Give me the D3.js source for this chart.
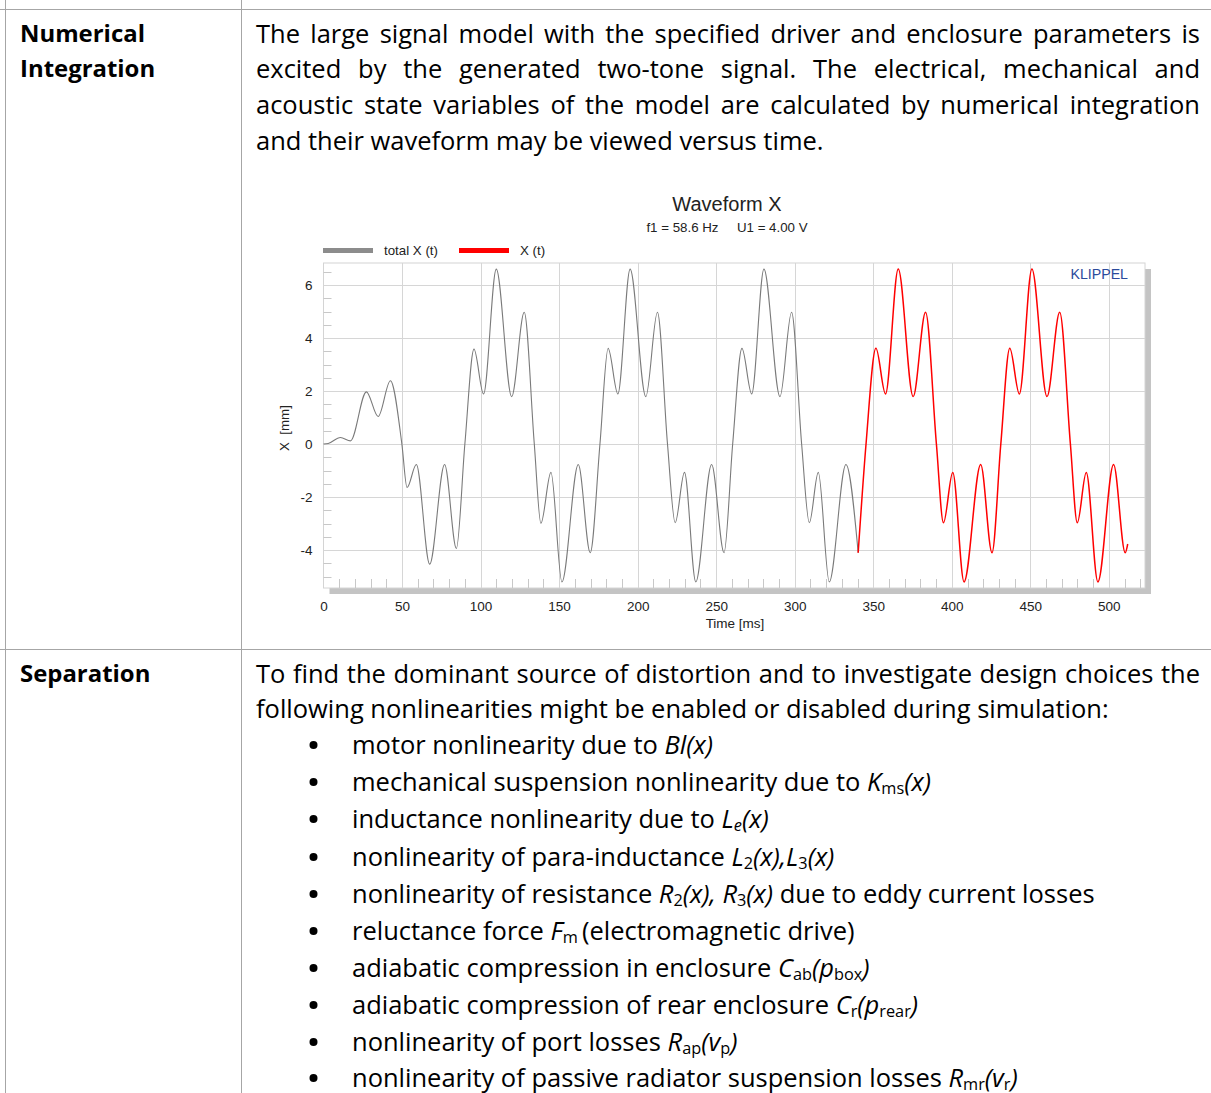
<!DOCTYPE html>
<html>
<head>
<meta charset="utf-8">
<script src="https://cdn.jsdelivr.net/npm/d3@7/dist/d3.min.js"></script>
<style>
  html, body { margin: 0; padding: 0; background: #fff; }
  body { width: 1211px; height: 1093px; position: relative; overflow: hidden; }
  #page { position: absolute; left: 0; top: 0; width: 1211px; height: 1093px; }
  .txt { position: absolute; font-family: 'Open Sans', sans-serif; color: #000; white-space: nowrap; }
  .just { text-align: justify; text-align-last: justify; white-space: normal; }
  .lbl { font-weight: bold; }
  sub { font-size: 0.64em; vertical-align: -0.18em; line-height: 0; font-style: normal; }
  sub.it { font-style: italic; }
</style>
</head>
<body>
<div id="page"></div>
<script>
// ---------------- data ----------------
const chartTitle = "Waveform X";
const chartSubtitle = "f1 = 58.6 Hz     U1 = 4.00 V";
const seriesNames = ["total X (t)", "X (t)"];
const xLabel = "Time [ms]";
const yLabel = "X  [mm]";
const xTicks = [0, 50, 100, 150, 200, 250, 300, 350, 400, 450, 500];
const yTicks = [-4, -2, 0, 2, 4, 6];

// total X (t): time [ms] and displacement [mm] read at extrema / crossings
const totalTime = [0, 3, 10.8, 17.2, 27.3, 34.8, 42.6, 49.9, 53.2, 59.1, 67.6, 77.1, 84.6, 90.0,
  95.8, 101.9, 110.0, 119.8, 127.8, 134.2, 138.4, 144.8, 151.8, 162.2, 169.8, 176.0,
  181.2, 187.4, 195.2, 205.2, 212.6, 219.0, 223.9, 229.8, 237.0, 247.1, 255.0, 260.5,
  266.4, 272.6, 280.4, 290.6, 298.0, 304.4, 309.3, 315.0, 322.0, 332.6, 340.4];
const totalX = [0, 0.02, 0.25, 0.12, 1.97, 1.04, 2.39, 0, -1.64, -0.77, -4.53, -0.77, -3.94, 0,
  3.58, 1.89, 6.60, 1.79, 4.97, 0, -2.99, -1.07, -5.2, -0.77, -4.1, 0,
  3.61, 1.89, 6.6, 1.79, 4.97, 0, -2.97, -1.07, -5.2, -0.77, -4.1, 0,
  3.61, 1.89, 6.6, 1.79, 4.97, 0, -2.97, -1.07, -5.2, -0.77, -4.1];

// X (t): steady-state part
const xTime = [340.4, 345.4, 351.7, 357.8, 365.9, 375.4, 383.3, 390.2, 394.7, 400.6, 407.8, 418.4,
  425.6, 431.2, 436.9, 443.0, 451.0, 460.6, 468.7, 475.5, 479.9, 485.6, 493.0, 503.0, 510.4, 512.0];
const xValues = [-4.1, 0, 3.61, 1.89, 6.6, 1.79, 4.97, 0, -2.97, -1.07, -5.2, -0.77,
  -4.1, 0, 3.61, 1.89, 6.6, 1.79, 4.97, 0, -2.97, -1.07, -5.2, -0.77, -4.1, -3.77];

// ---------------- page ----------------
const W = 1211, H = 1093;
const page = d3.select("#page");
const svg = page.append("svg").attr("width", W).attr("height", H)
  .style("position", "absolute").style("left", 0).style("top", 0);

// table lines
const tableColor = "#a6a6a6";
[[0, 9.5, W, 9.5], [0, 649.5, W, 649.5], [5.5, 0, 5.5, H], [241.5, 0, 241.5, H]].forEach(l => {
  svg.append("line").attr("x1", l[0]).attr("y1", l[1]).attr("x2", l[2]).attr("y2", l[3])
    .attr("stroke", tableColor).attr("stroke-width", 1);
});

// text: fit font size to measured line width
const BODY_FONT = "'Open Sans', sans-serif";
const cnv = document.createElement("canvas").getContext("2d");
function widthAt(txt, size, weight) {
  cnv.font = (weight || "normal") + " " + size + "px " + BODY_FONT;
  return cnv.measureText(txt).width;
}
const bodySize = 100 * 853 / widthAt("following nonlinearities might be enabled or disabled during simulation:", 100);
const labelSize = 100 * 125 / widthAt("Numerical", 100, "bold");

function addLine(html, x, cy, w, justify, cls) {
  const d = page.append("div").attr("class", "txt" + (justify ? " just" : "") + (cls ? " " + cls : ""))
    .style("left", x + "px").style("top", (cy - 13) + "px")
    .style("font-size", (cls === "lbl" ? labelSize : bodySize) + "px")
    .style("line-height", "26px").style("height", "26px")
    .html(html);
  if (w) d.style("width", w + "px");
  return d;
}

addLine("Numerical", 20, 33, null, false, "lbl");
addLine("Integration", 20, 68, null, false, "lbl");
addLine("Separation", 20, 673, null, false, "lbl");

const para1 = [
  "The large signal model with the specified driver and enclosure parameters is",
  "excited by the generated two-tone signal. The electrical, mechanical and",
  "acoustic state variables of the model are calculated by numerical integration",
  "and their waveform may be viewed versus time."];
const para1Y = [33, 68, 104, 140];
para1.forEach((t, i) => addLine(t, 256, para1Y[i], 944, i < para1.length - 1));

const para2 = [
  "To find the dominant source of distortion and to investigate design choices the",
  "following nonlinearities might be enabled or disabled during simulation:"];
const para2Y = [673, 708];
para2.forEach((t, i) => addLine(t, 256, para2Y[i], 944, i < para2.length - 1));

const bullets = [
  "motor nonlinearity due to <i>Bl(x)</i>",
  "mechanical suspension nonlinearity due to <i>K</i><sub>ms</sub><i>(x)</i>",
  "inductance nonlinearity due to <i>L</i><sub class='it'>e</sub><i>(x)</i>",
  "nonlinearity of para-inductance <i>L</i><sub>2</sub><i>(x),L</i><sub>3</sub><i>(x)</i>",
  "nonlinearity of resistance <i>R</i><sub>2</sub><i>(x), R</i><sub>3</sub><i>(x)</i> due to eddy current losses",
  "reluctance force <i>F</i><sub>m</sub>&#8201;(electromagnetic drive)",
  "adiabatic compression in enclosure <i>C</i><sub>ab</sub><i>(p</i><sub>box</sub><i>)</i>",
  "adiabatic compression of rear enclosure <i>C</i><sub>r</sub><i>(p</i><sub>rear</sub><i>)</i>",
  "nonlinearity of port losses <i>R</i><sub>ap</sub><i>(v</i><sub>p</sub><i>)</i>",
  "nonlinearity of passive radiator suspension losses <i>R</i><sub>mr</sub><i>(v</i><sub>r</sub><i>)</i>"];
const bulletY = [744, 781, 818, 856, 893, 930, 967, 1004, 1041, 1077];
bullets.forEach((t, i) => {
  svg.append("circle").attr("cx", 313.5).attr("cy", bulletY[i] + 1).attr("r", 4).attr("fill", "#000");
  addLine(t, 352, bulletY[i], null, false);
});

// ---------------- chart ----------------
const CF = "'Liberation Sans', Arial, sans-serif";
const TICK_FS = 13.5;
const plot = { left: 323.5, right: 1145, top: 263, bottom: 588 };
const x = d3.scaleLinear().domain([0, 523]).range([plot.left, plot.right]);
const y = d3.scaleLinear().domain([-5.43, 6.83]).range([plot.bottom, plot.top]);

const g = svg.append("g");
// shadow
g.append("rect").attr("x", plot.left + 6).attr("y", plot.top + 6)
  .attr("width", plot.right - plot.left).attr("height", plot.bottom - plot.top)
  .attr("fill", "#c4c4c4");
g.append("rect").attr("x", plot.left).attr("y", plot.top)
  .attr("width", plot.right - plot.left).attr("height", plot.bottom - plot.top)
  .attr("fill", "#fff").attr("stroke", "#d4d4d4").attr("stroke-width", 1);

// grid
const gridColor = "#d6d6d6";
xTicks.filter(v => v > 0).forEach(v => {
  g.append("line").attr("x1", Math.round(x(v)) + 0.5).attr("x2", Math.round(x(v)) + 0.5)
    .attr("y1", plot.top).attr("y2", plot.bottom).attr("stroke", gridColor);
});
yTicks.forEach(v => {
  g.append("line").attr("y1", Math.round(y(v)) + 0.5).attr("y2", Math.round(y(v)) + 0.5)
    .attr("x1", plot.left).attr("x2", plot.right).attr("stroke", gridColor);
});
// minor ticks
const minorColor = "#c8c8c8";
d3.range(10, 521, 10).filter(v => v % 50 !== 0).forEach(v => {
  g.append("line").attr("x1", Math.round(x(v)) + 0.5).attr("x2", Math.round(x(v)) + 0.5)
    .attr("y1", plot.bottom - 9).attr("y2", plot.bottom).attr("stroke", minorColor);
});
d3.range(-5, 6.6, 0.5).filter(v => Math.abs(v % 2) > 1e-6).forEach(v => {
  g.append("line").attr("y1", Math.round(y(v)) + 0.5).attr("y2", Math.round(y(v)) + 0.5)
    .attr("x1", plot.left).attr("x2", plot.left + 8).attr("stroke", minorColor);
});

// axes labels via d3 axes
const fmt = d => String(d);
const xAxis = d3.axisBottom(x).tickValues(xTicks).tickFormat(fmt).tickSize(0).tickPadding(13);
const xa = g.append("g").attr("transform", `translate(0,${plot.bottom})`).call(xAxis);
xa.select(".domain").remove();
xa.selectAll("text").attr("font-family", CF).attr("font-size", TICK_FS).attr("fill", "#222");

const yAxis = d3.axisLeft(y).tickValues(yTicks).tickFormat(fmt).tickSize(0).tickPadding(11);
const ya = g.append("g").attr("transform", `translate(${plot.left},0)`).call(yAxis);
ya.select(".domain").remove();
ya.selectAll("text").attr("font-family", CF).attr("font-size", TICK_FS).attr("fill", "#222");

// KLIPPEL
g.append("text").attr("x", 1128).attr("y", 279).attr("text-anchor", "end")
  .attr("font-family", CF).attr("font-size", 14.2).attr("fill", "#2b4a9c").text("KLIPPEL");

// lines
const line = d3.line().x(d => x(d[0])).y(d => y(d[1])).curve(d3.curveMonotoneX);
g.append("path").datum(totalTime.map((t, i) => [t, totalX[i]]))
  .attr("d", line).attr("fill", "none").attr("stroke", "#7a7a7a").attr("stroke-width", 1.1);
g.append("path").datum(xTime.map((t, i) => [t, xValues[i]]))
  .attr("d", line).attr("fill", "none").attr("stroke", "#ff0000").attr("stroke-width", 1.5);

// titles
g.append("text").attr("x", 727).attr("y", 211).attr("text-anchor", "middle")
  .attr("font-family", CF).attr("font-size", 20).attr("fill", "#222").text(chartTitle);
g.append("text").attr("x", 727).attr("y", 232).attr("text-anchor", "middle")
  .attr("font-family", CF).attr("font-size", 13.3).attr("fill", "#222")
  .style("white-space", "pre").text(chartSubtitle);

// legend
const legendItems = [
  { name: seriesNames[0], color: "#8c8c8c", x0: 323 },
  { name: seriesNames[1], color: "#ff0000", x0: 459 }];
legendItems.forEach(it => {
  g.append("line").attr("x1", it.x0).attr("x2", it.x0 + 50).attr("y1", 250.5).attr("y2", 250.5)
    .attr("stroke", it.color).attr("stroke-width", 5);
  g.append("text").attr("x", it.x0 + 61).attr("y", 255).attr("font-family", CF)
    .attr("font-size", 13.3).attr("fill", "#222").text(it.name);
});

// axis titles
g.append("text").attr("x", 735).attr("y", 628).attr("text-anchor", "middle")
  .attr("font-family", CF).attr("font-size", 13.5).attr("fill", "#222").text(xLabel);
g.append("text").attr("transform", "translate(289,428) rotate(-90)").attr("text-anchor", "middle")
  .attr("font-family", CF).attr("font-size", 13.3).attr("fill", "#222")
  .style("white-space", "pre").text(yLabel);
</script>
</body>
</html>
